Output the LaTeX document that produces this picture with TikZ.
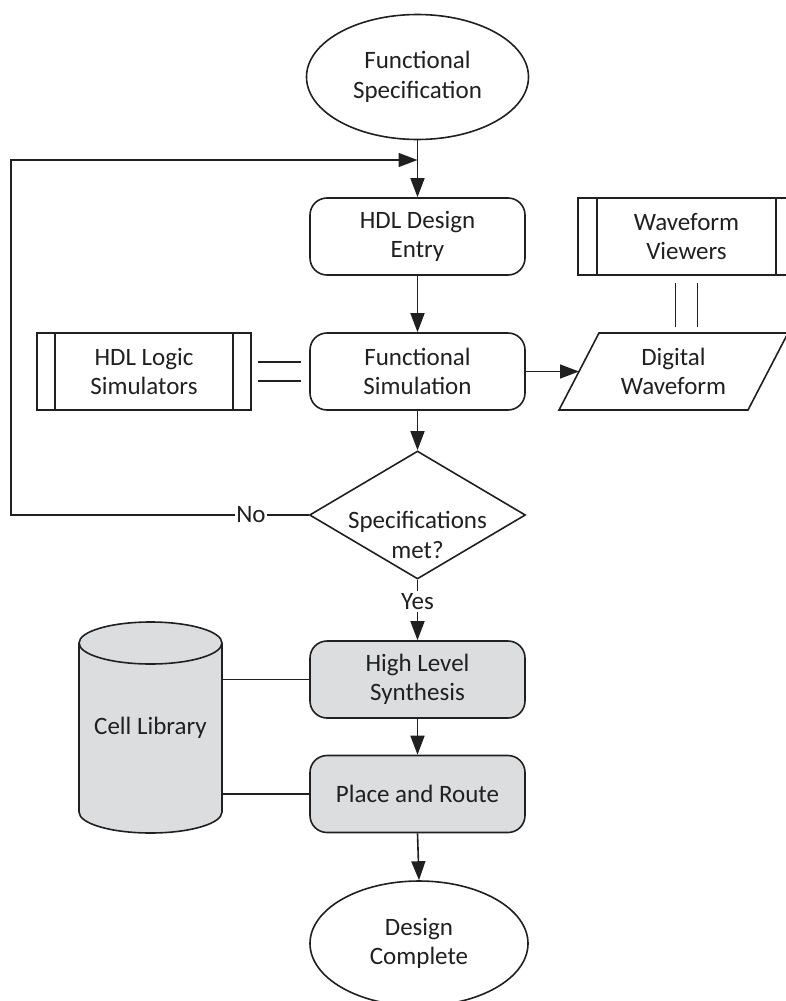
\documentclass[tikz,border=0pt]{standalone}
\usepackage{fontspec}
\setmainfont{Carlito}
\usetikzlibrary{shapes.geometric,arrows.meta,calc}
\definecolor{ln}{RGB}{32,32,32}
\definecolor{gfill}{RGB}{220,221,222}
\begin{document}
\begin{tikzpicture}[x=1pt,y=-1pt,
  every node/.style={font=\fontsize{25}{29.5}\selectfont, text=ln, align=center},
  base/.style={draw=ln, line width=1.6pt},
  term/.style={base, ellipse, minimum width=222, minimum height=125, inner sep=0},
  rbox/.style={base, rectangle, rounded corners=17pt, minimum width=215, minimum height=77, inner sep=0},
  proc/.style={base, rectangle, minimum height=77, inner sep=0},
  decision/.style={base, diamond, minimum width=216, minimum height=128, inner sep=0, aspect=1.7},
  arr/.style={draw=ln, line width=1.6pt, -{Triangle[length=19pt,width=14pt]}},
  conn/.style={draw=ln, line width=1.6pt},
  lbl/.style={fill=white, inner xsep=1.5pt, inner ysep=2pt},
]
\useasboundingbox (0,0) rectangle (786,1001);

% main column
\node[term] (fs) at (417.5,77) {Functional\\Specification};
\node[rbox] (hde) at (417.5,236.5) {HDL Design\\Entry};
\node[rbox] (fsim) at (417.5,371.5) {Functional\\Simulation};
\node[decision] (dec) at (417.5,515) {};
\node (dect) at (417.5,535) {Specifications\\met?};
\node[rbox, fill=gfill] (hls) at (417.5,679.5) {High Level\\Synthesis};
\node[rbox, fill=gfill] (pr) at (417.5,794) {Place and Route};
\node[term, minimum width=218] (dc) at (419,943.5) {Design\\Complete};

% side processes
\node[proc, minimum width=214] (hsim) at (144,371.5) {HDL Logic\\Simulators};
\draw[conn] ([xshift=19pt]hsim.north west) -- ([xshift=19pt]hsim.south west);
\draw[conn] ([xshift=-19pt]hsim.north east) -- ([xshift=-19pt]hsim.south east);

\node[proc, minimum width=217] (wv) at (686.5,236.5) {Waveform\\Viewers};
\draw[conn] ([xshift=20pt]wv.north west) -- ([xshift=20pt]wv.south west);
\draw[conn] ([xshift=-20pt]wv.north east) -- ([xshift=-20pt]wv.south east);

% data parallelogram
\node[minimum width=189, minimum height=77, inner sep=0, outer sep=0] (dw) at (673.5,371.5) {Digital\\Waveform};
\draw[base, line join=miter] ([xshift=-20pt]dw.south west) -- ([xshift=20pt]dw.north west)
  -- ([xshift=20pt]dw.north east) -- ([xshift=-20pt]dw.south east) -- cycle;

% cell library cylinder
\coordinate (cl) at (150.5,727.5);
\fill[gfill] (79,643) rectangle (222,812);
\fill[gfill] (150.5,812) ellipse [x radius=71.5, y radius=21];
\begin{scope}
  \clip (70,812) rectangle (232,845);
  \draw[base] (150.5,812) ellipse [x radius=71.5, y radius=21];
\end{scope}
\draw[base] (79,643) -- (79,812);
\draw[base] (222,643) -- (222,812);
\filldraw[base, fill=gfill] (150.5,643) ellipse [x radius=71.5, y radius=21];
\node[minimum width=143, minimum height=211, inner sep=0, outer sep=0] (clib) at (cl) {Cell Library};

% connectors
\draw[arr] (fs.south) -- (hde.north);
\draw[arr] (hde.south) -- (fsim.north);
\draw[arr] (fsim.south) -- (dec.north);
\draw[arr] (dec.south) -- node[lbl, pos=0.36] (yes) {Yes} (hls.north);
\draw[arr] (hls.south) -- (pr.north);
\draw[arr] (pr.south) -- (dc.north);
\draw[arr] (fsim.east) -- (dw.west);

\coordinate (c1) at (11,515);
\coordinate (c2) at (11,160);
\draw[arr] (dec.west) -- node[lbl, pos=0.194] (no) {No} (c1) -- (c2) -- (fs.south |- c2);

% double lines
\draw[conn] ($(hsim.east)+(6,-9.5)$) -- ($(fsim.west)+(-8,-9.5)$);
\draw[conn] ($(hsim.east)+(6,9.5)$) -- ($(fsim.west)+(-8,9.5)$);
\draw[conn] ($(wv.south)+(-11,7)$) -- ($(wv.south |- dw.north)+(-11,-6)$);
\draw[conn] ($(wv.south)+(11,7)$) -- ($(wv.south |- dw.north)+(11,-6)$);

% cell library links
\draw[conn] (clib.east |- hls.west) -- (hls.west);
\draw[conn] (clib.east |- pr.west) -- (pr.west);
\end{tikzpicture}
\end{document}
